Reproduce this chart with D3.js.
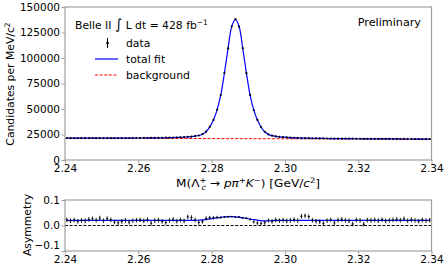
<!DOCTYPE html>
<html>
<head>
<meta charset="utf-8">
<script src="https://cdn.jsdelivr.net/npm/d3@7"></script>
<style>
  body { margin: 0; background: #fff; }
  text { font-family: "DejaVu Sans", sans-serif; fill: #000; }
</style>
</head>
<body>
<script>
// bin centres: 1 MeV bins from 2.24 to 2.34 GeV
var binStart = 2.2405, binWidth = 0.001;

// candidates per MeV (data)
var counts = [
  21560, 21450, 21540, 21470, 21530, 21420, 21510, 21560, 21440, 21500,
  21470, 21530, 21460, 21550, 21480, 21520, 21490, 21580, 21510, 21570,
  21540, 21620, 21580, 21670, 21650, 21760, 21740, 21860, 21880, 22020,
  22080, 22270, 22400, 22700, 22930, 23390, 24000, 25380, 27790, 32560,
  39250, 49250, 63700, 85350, 109400, 131100, 138100, 130800, 109600, 85150,
  63800, 49000, 39250, 32300, 27700, 25100, 23880, 23100, 22750, 22380,
  22180, 21910, 21800, 21620, 21560, 21420, 21390, 21270, 21260, 21150,
  21160, 21060, 21080, 20980, 21010, 20920, 20950, 20870, 20890, 20810,
  20840, 20760, 20800, 20720, 20760, 20680, 20720, 20640, 20680, 20610,
  20650, 20580, 20620, 20550, 20600, 20520, 20570, 20490, 20540, 20470
];

// total fit evaluated at the bin centres
var totalFit = [
  21515, 21510, 21505, 21500, 21495, 21490, 21490, 21490, 21490, 21490,
  21490, 21490, 21495, 21500, 21505, 21510, 21520, 21530, 21540, 21550,
  21570, 21590, 21610, 21640, 21680, 21720, 21770, 21830, 21900, 21990,
  22100, 22240, 22430, 22670, 22960, 23350, 24040, 25330, 27820, 32510,
  39300, 49190, 63780, 85270, 109460, 130950, 137940, 130930, 109420, 85210,
  63700, 49090, 39180, 32370, 27660, 25150, 23840, 23130, 22720, 22410,
  22150, 21940, 21780, 21650, 21540, 21450, 21370, 21300, 21240, 21180,
  21130, 21090, 21050, 21010, 20980, 20950, 20920, 20890, 20865, 20840,
  20815, 20790, 20770, 20750, 20730, 20710, 20690, 20670, 20655, 20640,
  20625, 20610, 20595, 20580, 20565, 20550, 20535, 20520, 20505, 20490
];

// linear background: [mass, value] at both ends
var background = [[2.24, 21400], [2.34, 20400]];

// asymmetry data, errors and fit
var asym = [
  0.022, 0.018, 0.021, 0.016, 0.020, 0.019, 0.024, 0.026, 0.021, 0.029,
  0.019, 0.027, 0.022, 0.014, 0.011, 0.016, 0.020, 0.013, 0.019, 0.021,
  0.022, 0.018, 0.023, 0.009, 0.019, 0.021, 0.016, 0.012, 0.020, 0.024,
  0.017, 0.022, 0.018, 0.034, 0.031, 0.022, 0.012, 0.015, 0.028, 0.031,
  0.030, 0.032, 0.031, 0.033, 0.034, 0.035, 0.033, 0.034, 0.030, 0.029,
  0.024, 0.014, 0.010, 0.008, 0.011, 0.020, 0.016, 0.022, 0.019, 0.021,
  0.018, 0.020, 0.023, 0.019, 0.036, 0.038, 0.035, 0.020, 0.017, 0.015,
  0.008, 0.019, 0.022, 0.010, 0.021, 0.024, 0.020, 0.018, 0.006, 0.022,
  0.020, 0.005, 0.021, 0.020, 0.022, 0.019, 0.023, 0.018, 0.020, 0.022,
  0.024, 0.021, 0.026, 0.019, 0.023, 0.020, 0.017, 0.022, 0.019, 0.021
];
var asymErr = [
  0.009, 0.009, 0.009, 0.009, 0.009, 0.009, 0.009, 0.009, 0.009, 0.009,
  0.009, 0.009, 0.009, 0.009, 0.009, 0.009, 0.009, 0.009, 0.009, 0.009,
  0.009, 0.009, 0.009, 0.009, 0.009, 0.009, 0.009, 0.009, 0.009, 0.009,
  0.009, 0.009, 0.009, 0.009, 0.009, 0.009, 0.009, 0.008, 0.008, 0.007,
  0.007, 0.006, 0.005, 0.004, 0.004, 0.003, 0.003, 0.003, 0.004, 0.004,
  0.005, 0.006, 0.007, 0.007, 0.008, 0.008, 0.009, 0.009, 0.009, 0.009,
  0.009, 0.009, 0.009, 0.009, 0.009, 0.009, 0.009, 0.009, 0.009, 0.009,
  0.009, 0.009, 0.009, 0.009, 0.009, 0.009, 0.009, 0.009, 0.009, 0.009,
  0.009, 0.009, 0.009, 0.009, 0.009, 0.009, 0.009, 0.009, 0.009, 0.009,
  0.009, 0.009, 0.009, 0.009, 0.009, 0.009, 0.009, 0.009, 0.009, 0.009
];
var asymFit = [
  0.020, 0.020, 0.020, 0.020, 0.020, 0.020, 0.020, 0.020, 0.020, 0.020,
  0.020, 0.020, 0.020, 0.020, 0.020, 0.020, 0.020, 0.020, 0.020, 0.020,
  0.020, 0.020, 0.020, 0.020, 0.020, 0.020, 0.020, 0.020, 0.020, 0.020,
  0.020, 0.020, 0.020, 0.020, 0.020, 0.020, 0.021, 0.022, 0.024, 0.026,
  0.028, 0.030, 0.032, 0.034, 0.035, 0.035, 0.034, 0.032, 0.030, 0.028,
  0.025, 0.023, 0.021, 0.019, 0.018, 0.018, 0.019, 0.020, 0.020, 0.020,
  0.020, 0.020, 0.020, 0.020, 0.020, 0.020, 0.020, 0.020, 0.020, 0.020,
  0.020, 0.020, 0.020, 0.020, 0.020, 0.020, 0.020, 0.020, 0.020, 0.020,
  0.020, 0.020, 0.020, 0.020, 0.020, 0.020, 0.020, 0.020, 0.020, 0.020,
  0.020, 0.020, 0.020, 0.020, 0.020, 0.020, 0.020, 0.020, 0.020, 0.020
];

var massTicks = [2.24, 2.26, 2.28, 2.30, 2.32, 2.34];
var countTicks = [0, 25000, 50000, 75000, 100000, 125000, 150000];
var asymTicks = [-0.1, 0.0, 0.1];

var width = 448, height = 270;
var spine = "#a0a0a0";

var svg = d3.select("body").append("svg")
  .attr("width", width)
  .attr("height", height);

var x = d3.scaleLinear().domain([2.24, 2.34]).range([65, 431.5]);
var y = d3.scaleLinear().domain([0, 150000]).range([160, 7]);
var ya = d3.scaleLinear().domain([-0.1, 0.1]).range([251, 200]);

function mass(i) { return binStart + i * binWidth; }

//style an axis the matplotlib way
function styleAxis(g) {
  g.select(".domain").remove();
  g.selectAll(".tick line").attr("stroke", spine).attr("stroke-width", 1);
  g.selectAll(".tick text").style("font-size", "10.5px").attr("fill", "#000");
}

// ---------- main panel ----------
svg.append("g")
  .attr("transform", "translate(0,160)")
  .call(d3.axisBottom(x).tickValues(massTicks).tickFormat(d3.format(".2f")).tickSize(3.5).tickPadding(1))
  .call(styleAxis);

svg.append("g")
  .attr("transform", "translate(65,0)")
  .call(d3.axisLeft(y).tickValues(countTicks).tickFormat(d3.format("d")).tickSize(3.5).tickPadding(1.5))
  .call(styleAxis);

svg.append("path")
  .datum(background)
  .attr("fill", "none")
  .attr("stroke", "red")
  .attr("stroke-width", 1)
  .attr("stroke-dasharray", "3,1.6")
  .attr("d", d3.line().x(function(d){ return x(d[0]); }).y(function(d){ return y(d[1]); }));

svg.append("path")
  .datum(totalFit)
  .attr("fill", "none")
  .attr("stroke", "#0000ff")
  .attr("stroke-width", 1.2)
  .attr("d", d3.line().curve(d3.curveCatmullRom)
    .x(function(d, i){ return x(mass(i)); })
    .y(function(d){ return y(d); }));

svg.selectAll(".pt")
  .data(counts)
  .enter()
  .append("circle")
  .attr("class", "pt")
  .attr("cx", function(d, i){ return x(mass(i)); })
  .attr("cy", function(d){ return y(d); })
  .attr("r", 1.1)
  .attr("fill", "#000");

svg.append("rect")
  .attr("x", 65).attr("y", 7)
  .attr("width", 366.5).attr("height", 153)
  .attr("fill", "none")
  .attr("stroke", spine)
  .attr("stroke-width", 1.2);

// legend
svg.append("text").attr("x", 75).attr("y", 29).style("font-size", "10.8px")
  .html('Belle II <tspan style="font-size:14px">∫</tspan> L dt = 428 fb<tspan dy="-4" style="font-size:7.5px">−1</tspan>');

svg.append("line").attr("x1", 107.5).attr("x2", 107.5).attr("y1", 38).attr("y2", 48)
  .attr("stroke", "#000").attr("stroke-width", 1);
svg.append("circle").attr("cx", 107.5).attr("cy", 43).attr("r", 1.3).attr("fill", "#000");
svg.append("text").attr("x", 126).attr("y", 47).style("font-size", "10.8px").text("data");

svg.append("line").attr("x1", 95).attr("x2", 118).attr("y1", 59).attr("y2", 59)
  .attr("stroke", "#0000ff").attr("stroke-width", 1.2);
svg.append("text").attr("x", 126).attr("y", 63).style("font-size", "10.8px").text("total fit");

svg.append("line").attr("x1", 95).attr("x2", 118).attr("y1", 75).attr("y2", 75)
  .attr("stroke", "red").attr("stroke-width", 1).attr("stroke-dasharray", "3,1.6");
svg.append("text").attr("x", 126).attr("y", 79).style("font-size", "10.8px").text("background");

svg.append("text").attr("x", 421).attr("y", 26).attr("text-anchor", "end")
  .style("font-size", "11.2px").text("Preliminary");

// axis titles
svg.append("text").attr("x", 248).attr("y", 187).attr("text-anchor", "middle")
  .attr("textLength", 144).attr("lengthAdjust", "spacingAndGlyphs")
  .style("font-size", "11px")
  .html('M(Λ<tspan dy="-4" style="font-size:7.5px">+</tspan><tspan dx="-4.5" dy="7" style="font-size:7.5px;font-style:italic">c</tspan>' +
        '<tspan dy="-3"> → </tspan><tspan style="font-style:italic">pπ</tspan><tspan dy="-4" style="font-size:7.5px">+</tspan>' +
        '<tspan dy="4" style="font-style:italic">K</tspan><tspan dy="-4" style="font-size:7.5px">−</tspan>' +
        '<tspan dy="4">)  [GeV/</tspan><tspan style="font-style:italic">c</tspan><tspan dy="-4" style="font-size:7.5px">2</tspan><tspan dy="4">]</tspan>');

svg.append("text")
  .attr("transform", "translate(14,84) rotate(-90)")
  .attr("text-anchor", "middle")
  .style("font-size", "10.8px")
  .html('Candidates per MeV/c<tspan dy="-4" style="font-size:7.5px">2</tspan>');

// ---------- asymmetry panel ----------
svg.append("g")
  .attr("transform", "translate(0,251)")
  .call(d3.axisBottom(x).tickValues(massTicks).tickFormat(d3.format(".2f")).tickSize(3.5).tickPadding(1))
  .call(styleAxis);

var ayAxis = svg.append("g")
  .attr("transform", "translate(65,0)")
  .call(d3.axisLeft(ya).tickValues(asymTicks).tickFormat(d3.format(".1f")).tickSize(3.5).tickPadding(1.5))
  .call(styleAxis);
ayAxis.selectAll(".tick text").filter(function(d){ return d < 0; }).attr("dy", "-0.2em");

svg.append("line")
  .attr("x1", x(2.24)).attr("x2", x(2.34))
  .attr("y1", ya(0)).attr("y2", ya(0))
  .attr("stroke", "#000").attr("stroke-width", 1).attr("stroke-dasharray", "3,1.6");

svg.append("path")
  .datum(asymFit)
  .attr("fill", "none")
  .attr("stroke", "#0000ff")
  .attr("stroke-width", 1.2)
  .attr("d", d3.line().curve(d3.curveCatmullRom)
    .x(function(d, i){ return x(mass(i)); })
    .y(function(d){ return ya(d); }));

var apts = svg.selectAll(".apt")
  .data(asym)
  .enter()
  .append("g")
  .attr("class", "apt");

apts.append("line")
  .attr("x1", function(d, i){ return x(mass(i)); })
  .attr("x2", function(d, i){ return x(mass(i)); })
  .attr("y1", function(d, i){ return ya(d - asymErr[i]); })
  .attr("y2", function(d, i){ return ya(d + asymErr[i]); })
  .attr("stroke", "#000").attr("stroke-width", 0.9);

apts.append("line")
  .attr("x1", function(d, i){ return x(mass(i)) - 1.1; })
  .attr("x2", function(d, i){ return x(mass(i)) + 1.1; })
  .attr("y1", function(d){ return ya(d); })
  .attr("y2", function(d){ return ya(d); })
  .attr("stroke", "#000").attr("stroke-width", 0.9);

svg.append("rect")
  .attr("x", 65).attr("y", 200)
  .attr("width", 366.5).attr("height", 51)
  .attr("fill", "none")
  .attr("stroke", spine)
  .attr("stroke-width", 1.2);

svg.append("text")
  .attr("transform", "translate(31,225) rotate(-90)")
  .attr("text-anchor", "middle")
  .style("font-size", "10.8px")
  .text("Asymmetry");
</script>
</body>
</html>
